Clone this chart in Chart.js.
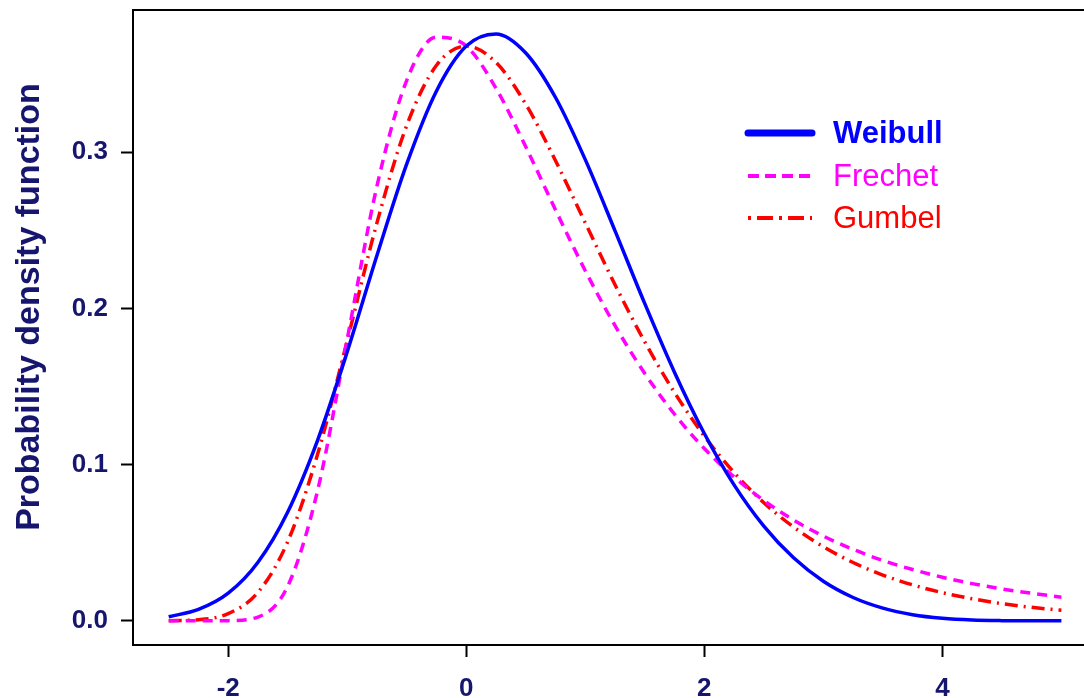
<!DOCTYPE html>
<html>
<head>
<meta charset="utf-8">
<title>Probability density function</title>
<script src="https://cdn.jsdelivr.net/npm/chart.js@4/dist/chart.umd.min.js"></script>
<style>
  html, body { margin: 0; padding: 0; background: #fff; overflow: hidden; }
  #chart { display: block; }
</style>
</head>
<body>
<canvas id="chart" width="1084" height="698"></canvas>
<script>
// values
var xs = [-2.5, -2.25, -2, -1.75, -1.5, -1.25, -1, -0.75, -0.5, -0.25, 0,
          0.25, 0.5, 0.75, 1, 1.25, 1.5, 1.75, 2, 2.25, 2.5,
          2.75, 3, 3.25, 3.5, 3.75, 4, 4.25, 4.5, 4.75, 5];

var weibull = [0.0026, 0.0073, 0.0177, 0.0375, 0.0697, 0.1154, 0.1722, 0.2340, 0.2925, 0.3392, 0.3679,
               0.3757, 0.3635, 0.3350, 0.2952, 0.2496, 0.2030, 0.1590, 0.1199, 0.0870, 0.0606,
               0.0403, 0.0253, 0.0149, 0.0081, 0.0039, 0.0016, 0.0005, 0.0001, 0.0, 0.0];

var frechet = [0.0, 0.0, 0.0001, 0.0024, 0.0222, 0.0831, 0.1804, 0.2784, 0.3460, 0.3736, 0.3679,
               0.3409, 0.3034, 0.2630, 0.2241, 0.1889, 0.1583, 0.1322, 0.1103, 0.0921, 0.0770,
               0.0645, 0.0542, 0.0457, 0.0386, 0.0328, 0.0279, 0.0238, 0.0204, 0.0176, 0.0151];

var gumbel = [0.0001, 0.0007, 0.0046, 0.0182, 0.0507, 0.1064, 0.1794, 0.2549, 0.3171, 0.3556, 0.3679,
              0.3574, 0.3307, 0.2945, 0.2547, 0.2151, 0.1785, 0.1461, 0.1182, 0.0949, 0.0756,
              0.0600, 0.0474, 0.0373, 0.0293, 0.0230, 0.0180, 0.0141, 0.0110, 0.0086, 0.0067];

var seriesNames = ['Weibull', 'Frechet', 'Gumbel'];
var xTicks = [-2, 0, 2, 4];
var yTicks = [0.0, 0.1, 0.2, 0.3];
var yTitle = 'Probability density function';

var navy = '#16166e';

function pts(ys) {
  return xs.map(function(x, i) { return { x: x, y: ys[i] }; });
}

// frame top line + legend + y title
var extras = {
  id: 'extras',
  afterDraw: function(chart) {
    var ctx = chart.ctx, a = chart.chartArea;
    ctx.save();
    ctx.strokeStyle = '#000';
    ctx.lineWidth = 2;
    ctx.beginPath();
    ctx.moveTo(a.left - 1, a.top);
    ctx.lineTo(a.right, a.top);
    ctx.stroke();

    // legend
    var rows = [133, 176, 218];
    chart.data.datasets.forEach(function(ds, i) {
      ctx.strokeStyle = ds.borderColor;
      ctx.lineWidth = i === 0 ? 7 : 4;
      ctx.lineCap = i === 0 ? 'round' : 'butt';
      ctx.setLineDash(i === 0 ? [] : (i === 1 ? [11, 6] : [3, 6, 16, 6]));
      ctx.beginPath();
      ctx.moveTo(748, rows[i]);
      ctx.lineTo(812, rows[i]);
      ctx.stroke();
      ctx.setLineDash([]);
      ctx.fillStyle = ds.borderColor;
      ctx.font = (i === 0 ? 'bold ' : '') + '31px "Liberation Sans", Arial, sans-serif';
      ctx.textBaseline = 'middle';
      ctx.textAlign = 'left';
      ctx.fillText(ds.label, 833, rows[i] + 1);
    });

    // y axis title
    ctx.translate(30, 307);
    ctx.rotate(-Math.PI / 2);
    ctx.fillStyle = navy;
    ctx.font = 'bold 34px "Liberation Sans", Arial, sans-serif';
    ctx.textAlign = 'center';
    ctx.textBaseline = 'middle';
    ctx.fillText(yTitle, 0, 0);
    ctx.restore();
  }
};

var tickFont = { family: '"Liberation Sans", Arial, sans-serif', size: 26, weight: 'bold' };

new Chart(document.getElementById('chart'), {
  type: 'line',
  data: {
    datasets: [{
      label: seriesNames[0],
      data: pts(weibull),
      borderColor: '#0000ff',
      borderWidth: 3.5
    }, {
      label: seriesNames[1],
      data: pts(frechet),
      borderColor: '#ff00ff',
      borderWidth: 3.5,
      borderDash: [10, 7]
    }, {
      label: seriesNames[2],
      data: pts(gumbel),
      borderColor: '#ff0000',
      borderWidth: 3.5,
      borderDash: [13, 6, 2, 6]
    }]
  },
  options: {
    responsive: false,
    animation: false,
    parsing: false,
    elements: {
      point: { radius: 0 },
      line: { cubicInterpolationMode: 'monotone', fill: false }
    },
    layout: { padding: { top: 10, left: 0, right: 0, bottom: 0 } },
    plugins: {
      legend: { display: false },
      tooltip: { enabled: false }
    },
    scales: {
      x: {
        type: 'linear',
        min: -2.8,
        max: 5.19,
        afterBuildTicks: function(scale) {
          scale.ticks = xTicks.map(function(v) { return { value: v }; });
        },
        afterFit: function(scale) {
          scale.height = 53;
          scale.paddingLeft = 0;
          scale.paddingRight = 0;
        },
        grid: { drawOnChartArea: false, color: '#000', tickLength: 12, tickWidth: 2 },
        border: { display: true, color: '#000', width: 2 },
        ticks: {
          color: navy,
          font: tickFont,
          padding: 16,
          maxRotation: 0,
          callback: function(v) { return String(v); }
        }
      },
      y: {
        type: 'linear',
        min: -0.0155,
        max: 0.391,
        afterBuildTicks: function(scale) {
          scale.ticks = yTicks.map(function(v) { return { value: v }; });
        },
        afterFit: function(scale) {
          scale.width = 133;
          scale.paddingTop = 0;
          scale.paddingBottom = 0;
        },
        grid: { drawOnChartArea: false, color: '#000', tickLength: 12, tickWidth: 2 },
        border: { display: true, color: '#000', width: 2 },
        ticks: {
          color: navy,
          font: tickFont,
          padding: 13,
          callback: function(v) { return v.toFixed(1); }
        }
      }
    }
  },
  plugins: [extras]
});
</script>
</body>
</html>
